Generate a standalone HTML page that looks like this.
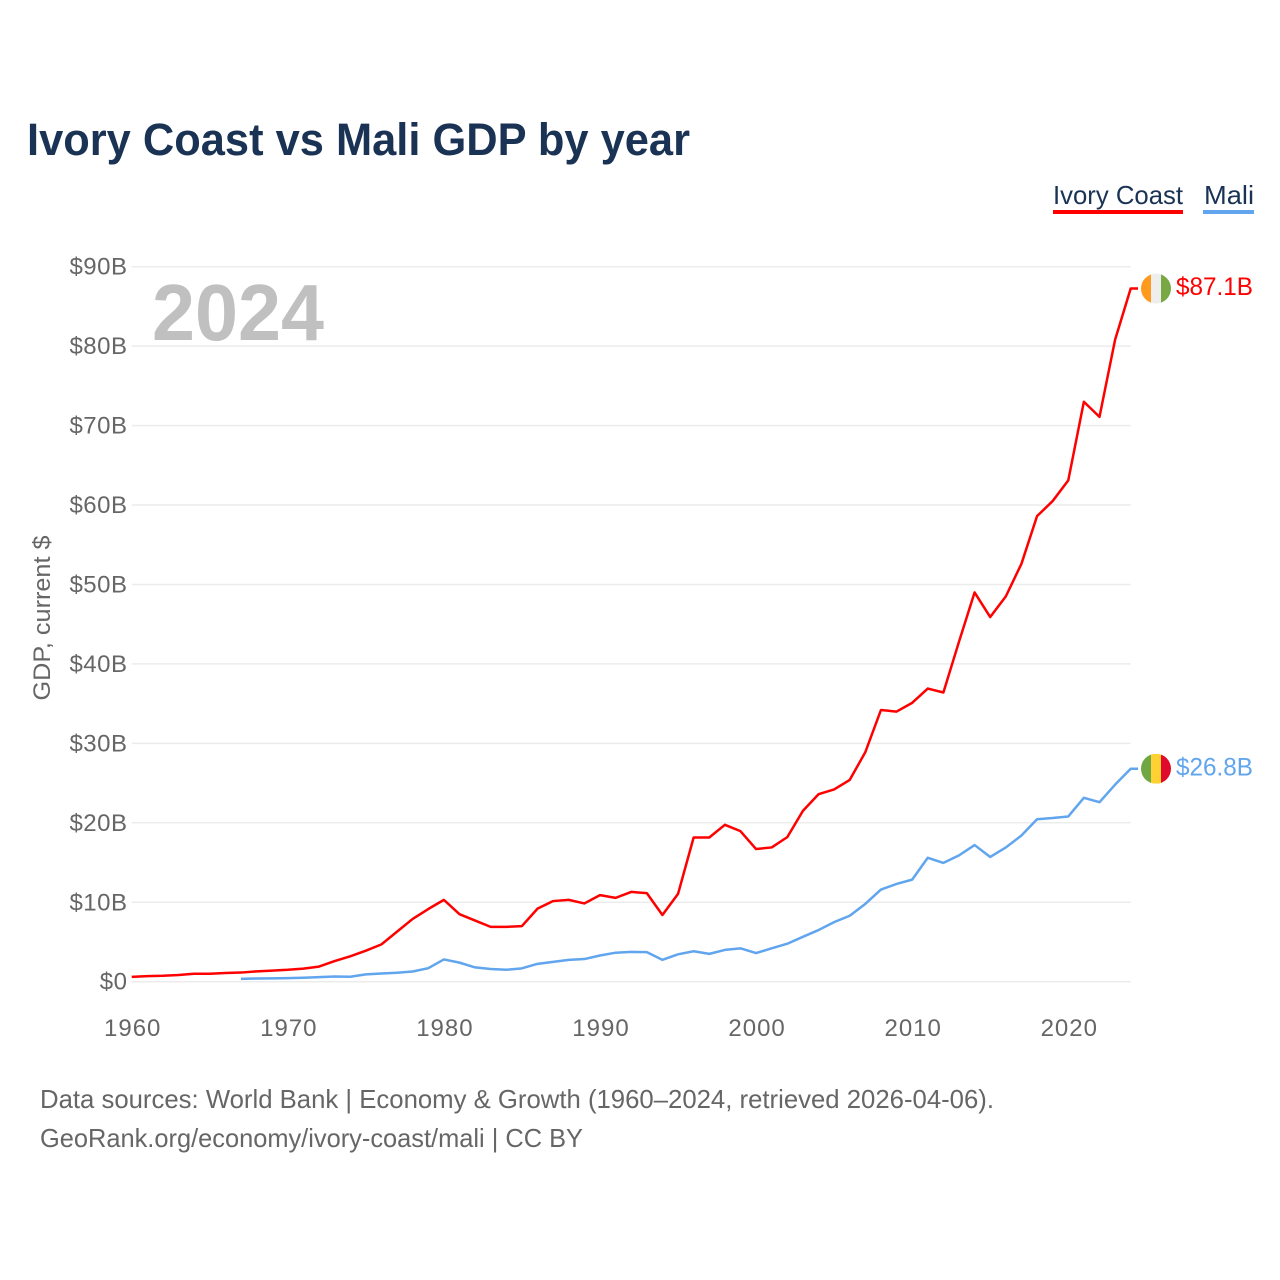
<!DOCTYPE html>
<html lang="en">
<head>
<meta charset="utf-8">
<title>Ivory Coast vs Mali GDP by year</title>
<style>
html,body{margin:0;padding:0;background:#fff;width:1280px;height:1280px;overflow:hidden}
svg{display:block}
text{font-family:"Liberation Sans",sans-serif}
</style>
</head>
<body>
<svg id="chart" xmlns="http://www.w3.org/2000/svg" width="1280" height="1280" viewBox="0 0 1280 1280">
  <rect width="1280" height="1280" fill="#ffffff"/>
  <text x="27" y="155" font-size="45" font-weight="700" fill="#1a3354" textLength="663" lengthAdjust="spacingAndGlyphs">Ivory Coast vs Mali GDP by year</text>

  <g>
    <text x="1053" y="204" font-size="26" fill="#1a3354" textLength="130" lengthAdjust="spacingAndGlyphs">Ivory Coast</text>
    <rect x="1053" y="210" width="130" height="4" fill="#ff0000"/>
  </g>
  <g>
    <text x="1204" y="204" font-size="26" fill="#1a3354" textLength="50" lengthAdjust="spacingAndGlyphs">Mali</text>
    <rect x="1203" y="210" width="51" height="4" fill="#60a5ee"/>
  </g>

  <g id="grid"></g>
  <g id="yticks"></g>
  <g id="xticks"></g>

  <text transform="translate(50,618) rotate(-90)" text-anchor="middle" font-size="24" fill="#666666" textLength="165" lengthAdjust="spacingAndGlyphs">GDP, current $</text>
  <text x="152" y="340" font-size="80" font-weight="700" fill="#c0c0c0" textLength="172" lengthAdjust="spacingAndGlyphs">2024</text>

  <g id="series"></g>
  <g id="ends"></g>

  <text x="40" y="1108" font-size="26" fill="#666666" textLength="954" lengthAdjust="spacingAndGlyphs">Data sources: World Bank | Economy &amp; Growth (1960–2024, retrieved 2026-04-06).</text>
  <text x="40" y="1147" font-size="26" fill="#666666" textLength="543" lengthAdjust="spacingAndGlyphs">GeoRank.org/economy/ivory-coast/mali | CC BY</text>
</svg>

<script>
const years = [1960,1961,1962,1963,1964,1965,1966,1967,1968,1969,1970,1971,1972,1973,1974,1975,1976,1977,1978,1979,1980,1981,1982,1983,1984,1985,1986,1987,1988,1989,1990,1991,1992,1993,1994,1995,1996,1997,1998,1999,2000,2001,2002,2003,2004,2005,2006,2007,2008,2009,2010,2011,2012,2013,2014,2015,2016,2017,2018,2019,2020,2021,2022,2023,2024];
const ivoryCoast = [0.6,0.7,0.75,0.85,1.0,1.0,1.1,1.15,1.3,1.4,1.5,1.65,1.9,2.6,3.2,3.9,4.7,6.3,7.9,9.15,10.3,8.5,7.7,6.9,6.9,7.0,9.2,10.15,10.3,9.85,10.9,10.55,11.3,11.15,8.4,11.05,18.15,18.15,19.75,18.95,16.7,16.9,18.2,21.5,23.6,24.2,25.4,28.9,34.2,34.0,35.1,36.9,36.4,42.8,49.0,45.9,48.5,52.6,58.6,60.5,63.1,73.0,71.1,80.8,87.25];
const mali = [null,null,null,null,null,null,null,0.35,0.4,0.42,0.45,0.5,0.58,0.66,0.62,0.92,1.03,1.12,1.28,1.7,2.8,2.4,1.8,1.6,1.5,1.68,2.25,2.5,2.75,2.85,3.3,3.65,3.75,3.72,2.75,3.45,3.83,3.5,4.0,4.2,3.6,4.2,4.78,5.65,6.5,7.5,8.3,9.8,11.6,12.3,12.85,15.6,14.95,15.9,17.2,15.7,16.9,18.4,20.45,20.6,20.8,23.15,22.6,24.8,26.8];
const yTickValues = [0,10,20,30,40,50,60,70,80,90];
const yTickLabels = ["$0","$10B","$20B","$30B","$40B","$50B","$60B","$70B","$80B","$90B"];
const xTickValues = [1960,1970,1980,1990,2000,2010,2020];
const endLabels = ["$87.1B","$26.8B"];
const ivoryFlagColors = ["#ff9a1f","#eeeeee","#77a843"];
const maliFlagColors = ["#6fa842","#ffd234","#e00b2b"];

const NS = "http://www.w3.org/2000/svg";
const plotLeft = 131.7, plotRight = 1130.7, plotBottom = 981.7, plotTop = 266.7;
function xScale(year) {
  return plotLeft + (year - 1960) * (plotRight - plotLeft) / (2024 - 1960);
}
function yScale(value) {
  return plotBottom - value * (plotBottom - plotTop) / 90;
}
function make(tag, attrs, parent) {
  const el = document.createElementNS(NS, tag);
  for (const k in attrs) el.setAttribute(k, attrs[k]);
  parent.appendChild(el);
  return el;
}

const grid = document.getElementById("grid");
const yticks = document.getElementById("yticks");
const xticks = document.getElementById("xticks");
const seriesGroup = document.getElementById("series");
const ends = document.getElementById("ends");

yTickValues.forEach(function (v, i) {
  const line = make("line", {x1: plotLeft, x2: plotRight, y1: yScale(v), y2: yScale(v), stroke: "#ececec", "stroke-width": 1.5}, grid);
  
  
  const label = make("text", {x: 127.5, y: yScale(v) + 8, "text-anchor": "end", "font-size": 24, "letter-spacing": 0.5, fill: "#666666"}, yticks);
  
  
  label.textContent = yTickLabels[i];
});

xTickValues.forEach(function (year) {
  const label = make("text", {x: xScale(year) + 1, y: 1036, "text-anchor": "middle", "font-size": 24, "letter-spacing": 1, fill: "#666666"}, xticks);
  
  
  label.textContent = String(year);
});

function drawSeries(values, color, flagColors, key, printed) {
  const pts = [];
  values.forEach(function (v, i) {
    if (v !== null) pts.push(xScale(years[i]).toFixed(2) + "," + yScale(v).toFixed(2));
  });
  const last = values[values.length - 1];
  const lastY = yScale(last);
  pts.push("1138," + lastY.toFixed(2));
  const line = make("polyline", {points: pts.join(" "), fill: "none", stroke: color, "stroke-width": 2.5, "stroke-linejoin": "round"}, seriesGroup);
  
  

  const cx = 1156, r = 15, cy = lastY;
  const clip = make("clipPath", {id: "clip-" + key}, ends);
  make("circle", {cx: cx, cy: cy, r: r}, clip);
  const flag = make("g", {"clip-path": "url(#clip-" + key + ")"}, ends);
  
  
  flagColors.forEach(function (c, i) {
    make("rect", {x: cx - r + i * 10, y: cy - r, width: 10, height: 2 * r, fill: c}, flag);
  });
  const label = make("text", {x: 1176, y: lastY + 6.5, "font-size": 25, fill: color, textLength: 77, lengthAdjust: "spacingAndGlyphs"}, ends);
  
  
  label.textContent = printed;
}

drawSeries(ivoryCoast, "#ff0000", ivoryFlagColors, "ivory", endLabels[0]);
drawSeries(mali, "#60a5ee", maliFlagColors, "mali", endLabels[1]);
</script>
</body>
</html>
